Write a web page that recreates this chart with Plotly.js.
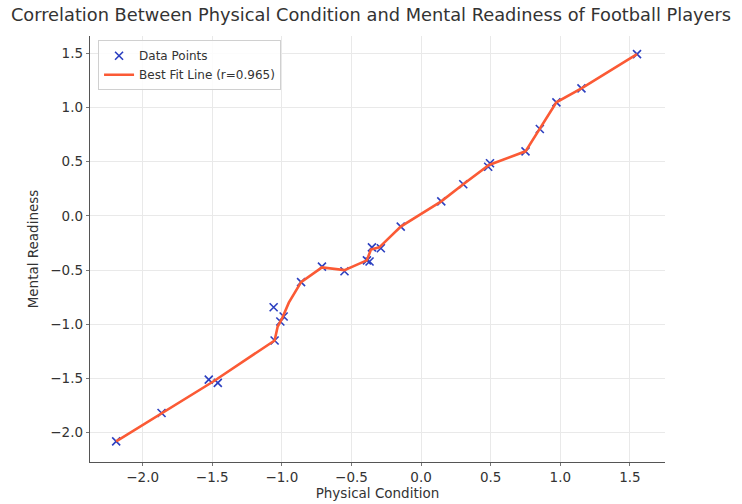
<!DOCTYPE html>
<html>
<head>
<meta charset="utf-8">
<script src="https://cdn.plot.ly/plotly-3.0.1.min.js"></script>
<style>html,body{margin:0;padding:0;background:#fff;}#chart{width:742px;height:504px;}</style>
</head>
<body>
<div id="chart"></div>
<script>
// Observed data points
const physicalCondition = [-2.19, -1.864, -1.525, -1.46, -1.052, -1.011, -0.987, -1.059, -0.862, -0.712, -0.55, -0.389, -0.37, -0.353, -0.289, -0.146, 0.145, 0.303, 0.482, 0.495, 0.75, 0.853, 0.972, 1.152, 1.551];
const mentalReadiness   = [-2.08, -1.818, -1.51, -1.54, -1.149, -0.974, -0.928, -0.842, -0.611, -0.467, -0.51, -0.41, -0.42, -0.29, -0.298, -0.098, 0.135, 0.292, 0.454, 0.486, 0.596, 0.802, 1.048, 1.177, 1.493];
// Best fit line vertices
const fitX = [-2.19, -1.864, -1.49, -1.052, -1.03, -1.0, -0.95, -0.862, -0.712, -0.55, -0.39, -0.36, -0.30, -0.146, 0.145, 0.303, 0.488, 0.75, 0.853, 0.972, 1.152, 1.551];
const fitY = [-2.08, -1.818, -1.525, -1.149, -1.02, -0.95, -0.80, -0.611, -0.475, -0.50, -0.41, -0.31, -0.29, -0.098, 0.135, 0.292, 0.47, 0.596, 0.802, 1.048, 1.177, 1.493];
const rValue = 0.965;

const xTicks = [-2.0, -1.5, -1.0, -0.5, 0.0, 0.5, 1.0, 1.5];
const yTicks = [-2.0, -1.5, -1.0, -0.5, 0.0, 0.5, 1.0, 1.5];
const fmt = v => (v < 0 ? '\u2212' : '') + Math.abs(v).toFixed(1);

const traces = [
  {
    x: physicalCondition, y: mentalReadiness, mode: 'markers', type: 'scatter',
    name: 'Data Points',
    marker: {symbol: 'x-thin-open', size: 8, color: '#2b3fc0', line: {width: 1.6, color: '#2b3fc0'}}
  },
  {
    x: fitX, y: fitY, mode: 'lines', type: 'scatter',
    name: 'Best Fit Line (r=' + rValue.toFixed(3) + ')',
    line: {color: '#fb5a35', width: 2.6}
  }
];

const axisCommon = {
  showgrid: true, gridcolor: '#e9e9e9', gridwidth: 1,
  zeroline: false, showline: true, linecolor: '#555', linewidth: 1.2,
  ticks: 'outside', ticklen: 3, tickcolor: '#777', tickwidth: 1,
  tickfont: {family: 'DejaVu Sans', size: 13.5, color: '#333'},
  mirror: false
};

const layout = {
  width: 742, height: 504,
  margin: {l: 90, r: 77, t: 36, b: 42},
  paper_bgcolor: '#fff', plot_bgcolor: '#fff',
  title: {text: 'Correlation Between Physical Condition and Mental Readiness of Football Players',
          font: {family: 'DejaVu Sans', size: 17.8, color: '#333'}, x: 0.5, xanchor: 'center', y: 0.97, yanchor: 'middle'},
  xaxis: Object.assign({}, axisCommon, {
    range: [-2.378, 1.752], tickvals: xTicks, ticktext: xTicks.map(fmt),
    title: {text: 'Physical Condition', font: {family: 'DejaVu Sans', size: 13.5, color: '#333'}, standoff: 3}
  }),
  yaxis: Object.assign({}, axisCommon, {
    range: [-2.27, 1.66], tickvals: yTicks, ticktext: yTicks.map(fmt),
    title: {text: 'Mental Readiness', font: {family: 'DejaVu Sans', size: 13.5, color: '#333'}, standoff: 8}
  }),
  showlegend: true,
  legend: {x: 0.014, y: 0.99, xanchor: 'left', yanchor: 'top',
           bgcolor: 'rgba(255,255,255,0.85)', bordercolor: '#d0d0d0', borderwidth: 1,
           font: {family: 'DejaVu Sans', size: 12, color: '#333'}, tracegroupgap: 0}
};

Plotly.newPlot('chart', traces, layout, {displayModeBar: false, staticPlot: true});
</script>
</body>
</html>
